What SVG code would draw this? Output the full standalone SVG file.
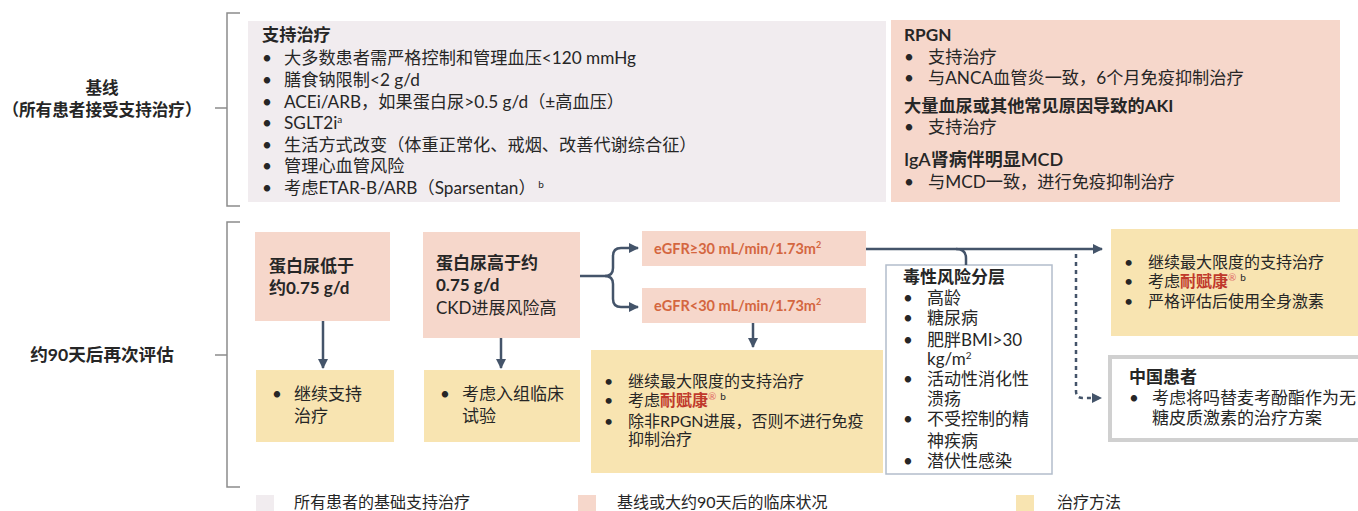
<svg xmlns="http://www.w3.org/2000/svg" width="1358" height="511" viewBox="0 0 1358 511">
<style>
text{font-family:Lato,"Noto Sans CJK SC",sans-serif;fill:#262626}
.b{font-weight:bold}
.s17{font-size:17px}
.s16{font-size:16px}
.s172{font-size:17.2px}
.sup{font-size:10px}
.eg{font-size:14.5px;font-weight:bold;fill:#D4663F}
.red{font-weight:bold;fill:#C0392B}
.pink{fill:#F6D7CB}
.gray{fill:#F1ECEF}
.yel{fill:#F8E4B1}
.br{fill:none;stroke:#8C8C8C;stroke-width:1.5}
.ar{fill:none;stroke:#44546A;stroke-width:2.5}
</style>
<defs>
<marker id="ah" viewBox="0 0 10 10" refX="9" refY="5" markerWidth="4" markerHeight="4" orient="auto"><path d="M0,0 L10,5 L0,10 z" fill="#44546A"/></marker>
</defs>

<g id="brackets">
<path class="br" d="M240,13 H227 V206 H240 M215,108 H227"/>
<path class="br" d="M240,222 H227 V487 H240 M215,355 H227"/>
</g>

<g id="label-baseline">
<text class="b" font-size="16.6" x="102" y="94" text-anchor="middle">基线</text>
<text class="b" font-size="16.6" x="102" y="116" text-anchor="middle">（所有患者接受支持治疗）</text>
</g>
<g id="label-90d">
<text class="b" font-size="17.6" x="102" y="361" text-anchor="middle">约90天后再次评估</text>
</g>

<g id="support">
<rect class="gray" x="248" y="21" width="638" height="181"/>
<text class="b s172" x="262" y="41">支持治疗</text>
<g class="s172">
<text x="262" y="64">•</text><text x="284" y="64">大多数患者需严格控制和管理血压&lt;120 mmHg</text>
<text x="262" y="86">•</text><text x="284" y="86">膳食钠限制&lt;2 g/d</text>
<text x="262" y="108">•</text><text x="284" y="108">ACEi/ARB，如果蛋白尿&gt;0.5 g/d（±高血压）</text>
<text x="262" y="129">•</text><text x="284" y="129">SGLT2i<tspan class="sup" dy="-6">a</tspan></text>
<text x="262" y="151">•</text><text x="284" y="151">生活方式改变（体重正常化、戒烟、改善代谢综合征）</text>
<text x="262" y="172">•</text><text x="284" y="172">管理心血管风险</text>
<text x="262" y="194">•</text><text x="284" y="194">考虑ETAR-B/ARB（Sparsentan）<tspan class="sup" dy="-6"> b</tspan></text>
</g>
</g>

<g id="rpgn">
<rect class="pink" x="891" y="20" width="449" height="182"/>
<text class="b s172" x="904" y="41">RPGN</text>
<g class="s172">
<text x="904" y="63">•</text><text x="928" y="63">支持治疗</text>
<text x="904" y="84">•</text><text x="928" y="84">与ANCA血管炎一致，6个月免疫抑制治疗</text>
<text class="b" x="904" y="112">大量血尿或其他常见原因导致的AKI</text>
<text x="904" y="133">•</text><text x="928" y="133">支持治疗</text>
<text font-size="18" x="904" y="166" style="font-weight:600">IgA肾病伴明显MCD</text>
<text x="904" y="188">•</text><text x="928" y="188">与MCD一致，进行免疫抑制治疗</text>
</g>
</g>

<g id="low-prot">
<rect class="pink" x="255" y="232" width="135" height="89"/>
<text class="b s17" x="269" y="272">蛋白尿低于</text>
<text class="b s17" x="269" y="294">约0.75 g/d</text>
</g>
<g id="high-prot">
<rect class="pink" x="423" y="232" width="157" height="106"/>
<text class="b s17" x="436" y="269">蛋白尿高于约</text>
<text class="b s17" x="436" y="291">0.75 g/d</text>
<text class="s17" x="436" y="314">CKD进展风险高</text>
</g>
<g id="tx-support">
<rect class="yel" x="256" y="370" width="138" height="72"/>
<text class="s17" x="272" y="400">•</text>
<text class="s17" x="294" y="400">继续支持</text>
<text class="s17" x="294" y="422">治疗</text>
</g>
<g id="tx-trial">
<rect class="yel" x="424" y="370" width="156" height="72"/>
<text class="s17" x="440" y="400">•</text>
<text class="s17" x="462" y="400">考虑入组临床</text>
<text class="s17" x="462" y="422">试验</text>
</g>

<g id="egfr-high">
<rect class="pink" x="642" y="231" width="224" height="35"/>
<text class="eg" x="654" y="254">eGFR≥30 mL/min/1.73m<tspan font-size="9" dy="-6">2</tspan></text>
</g>
<g id="egfr-low">
<rect class="pink" x="642" y="288" width="224" height="35"/>
<text class="eg" x="654" y="311">eGFR&lt;30 mL/min/1.73m<tspan font-size="9" dy="-6">2</tspan></text>
</g>

<g id="tx-low-egfr">
<rect class="yel" x="591" y="350" width="292" height="123"/>
<g class="s16">
<text x="604" y="387">•</text><text x="628" y="387">继续最大限度的支持治疗</text>
<text x="604" y="406">•</text><text x="628" y="406">考虑<tspan class="red">耐赋康</tspan><tspan class="sup" fill="#E06666" dy="-6">®</tspan><tspan class="sup" dx="4">b</tspan></text>
<text x="604" y="427">•</text><text x="628" y="427">除非RPGN进展，否则不进行免疫</text>
<text x="628" y="445">抑制治疗</text>
</g>
</g>

<g id="toxicity">
<rect x="886" y="265" width="166" height="209" fill="#fff" stroke="#B3BDCB" stroke-width="1.5"/>
<text class="b s17" x="903" y="283">毒性风险分层</text>
<g class="s17">
<text x="903" y="304">•</text><text x="927" y="304">高龄</text>
<text x="903" y="324">•</text><text x="927" y="324">糖尿病</text>
<text x="903" y="346">•</text><text x="927" y="346">肥胖BMI&gt;30</text>
<text x="927" y="365">kg/m<tspan font-size="10" dy="-6">2</tspan></text>
<text x="903" y="385">•</text><text x="927" y="385">活动性消化性</text>
<text x="927" y="405">溃疡</text>
<text x="903" y="425">•</text><text x="927" y="425">不受控制的精</text>
<text x="927" y="447">神疾病</text>
<text x="903" y="467">•</text><text x="927" y="467">潜伏性感染</text>
</g>
</g>

<g id="tx-high-egfr">
<rect class="yel" x="1111" y="229" width="247" height="107"/>
<g class="s16">
<text x="1124" y="268">•</text><text x="1148" y="268">继续最大限度的支持治疗</text>
<text x="1124" y="287">•</text><text x="1148" y="287">考虑<tspan class="red">耐赋康</tspan><tspan class="sup" fill="#E06666" dy="-6">®</tspan><tspan class="sup" dx="4">b</tspan></text>
<text x="1124" y="307">•</text><text x="1148" y="307">严格评估后使用全身激素</text>
</g>
</g>

<g id="china">
<rect x="1110" y="357" width="262" height="83" fill="#fff" stroke="#D0D0D0" stroke-width="4"/>
<text class="b s17" x="1129" y="383">中国患者</text>
<text class="s17" x="1129" y="404">•</text><text class="s17" x="1152" y="404">考虑将吗替麦考酚酯作为无</text>
<text class="s17" x="1152" y="424">糖皮质激素的治疗方案</text>
</g>

<g id="connectors">
<path class="ar" d="M323,321 V368" marker-end="url(#ah)"/>
<path class="ar" d="M501,338 V368" marker-end="url(#ah)"/>
<path class="ar" d="M753,323 V347" marker-end="url(#ah)"/>
<path class="ar" d="M580,276 H605 Q613,276 613,268 V256 Q613,248 621,248 H638" marker-end="url(#ah)"/>
<path class="ar" d="M605,276 Q613,276 613,284 V299 Q613,307 621,307 H638" marker-end="url(#ah)"/>
<path class="ar" d="M866,249 H1102" marker-end="url(#ah)"/>
<path class="ar" d="M956,249 Q966,249 966,258 V265"/>
<path class="ar" d="M1076,254 V391 Q1076,398 1083,398 H1101" stroke-dasharray="4,4" marker-end="url(#ah)"/>
</g>

<g id="legend">
<rect class="gray" x="256" y="495" width="18" height="20"/>
<text class="s16" x="294" y="508">所有患者的基础支持治疗</text>
<rect class="pink" x="578" y="495" width="18" height="20"/>
<text class="s16" x="617" y="508">基线或大约90天后的临床状况</text>
<rect class="yel" x="1016" y="495" width="18" height="20"/>
<text class="s16" x="1057" y="508">治疗方法</text>
</g>
</svg>
